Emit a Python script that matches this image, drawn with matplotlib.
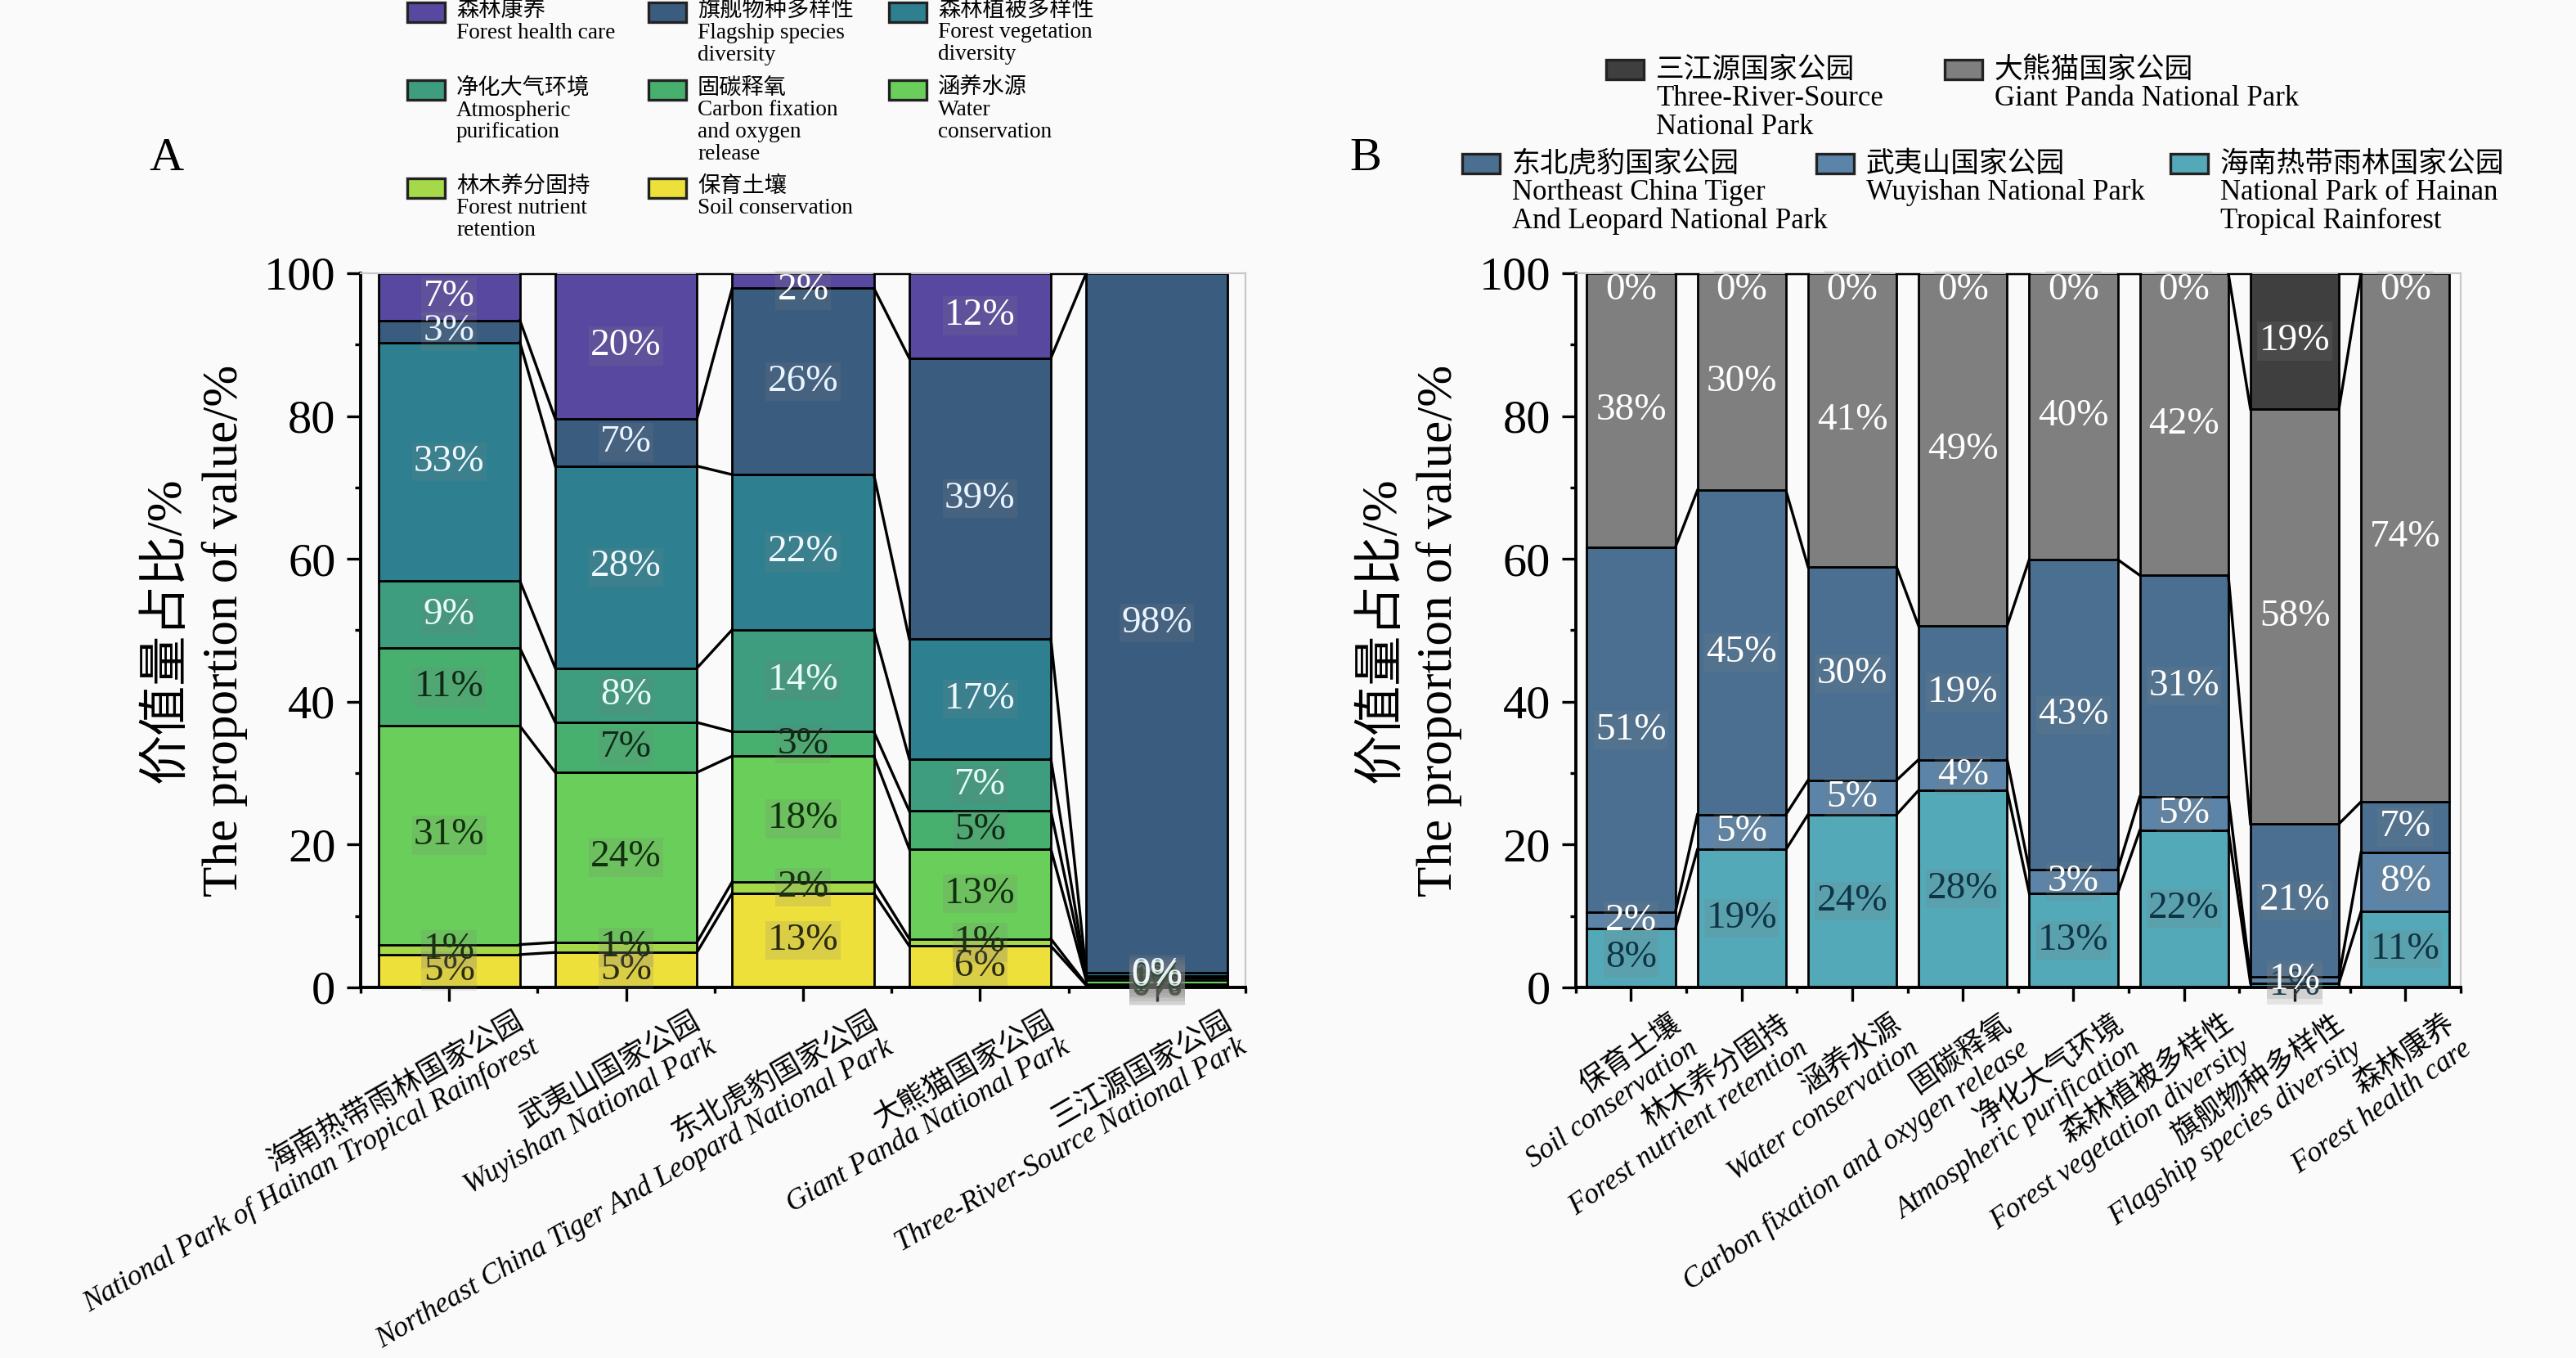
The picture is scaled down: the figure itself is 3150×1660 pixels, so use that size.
import numpy as np
import matplotlib
matplotlib.use("Agg")
import matplotlib.pyplot as plt
from matplotlib.transforms import ScaledTranslation

plt.rcParams['font.family'] = ['Liberation Serif', 'Noto Sans CJK SC']

# ---------------- data ----------------
# panel A : parks on x, services stacked (bottom -> top)
parks_cn = ["海南热带雨林国家公园", "武夷山国家公园", "东北虎豹国家公园", "大熊猫国家公园", "三江源国家公园"]
parks_en = ["National Park of Hainan Tropical Rainforest", "Wuyishan National Park",
            "Northeast China Tiger And Leopard National Park", "Giant Panda National Park",
            "Three-River-Source National Park"]

serv_cn = ["保育土壤", "林木养分固持", "涵养水源", "固碳释氧", "净化大气环境", "森林植被多样性", "旗舰物种多样性", "森林康养"]
serv_en = ["Soil conservation", "Forest nutrient retention", "Water conservation",
           "Carbon fixation and oxygen release", "Atmospheric purification",
           "Forest vegetation diversity", "Flagship species diversity", "Forest health care"]
# legend wrapping of service names (panel A legend)
serv_en_wrap = ["Soil conservation", "Forest nutrient\nretention", "Water\nconservation",
                "Carbon fixation\nand oxygen\nrelease", "Atmospheric\npurification",
                "Forest vegetation\ndiversity", "Flagship species\ndiversity", "Forest health care"]

# % share of each service in each park (columns = parks in parks_cn order)
a_soil     = [4.6, 4.9, 13.2, 5.8, 0.3]
a_nutrient = [1.4, 1.4, 1.6, 1.0, 0.1]
a_water    = [30.6, 23.8, 17.6, 12.6, 0.6]
a_carbon   = [10.9, 7.0, 3.4, 5.3, 0.4]
a_atmos    = [9.4, 7.6, 14.3, 7.3, 0.2]
a_veg      = [33.4, 28.3, 21.7, 16.8, 0.5]
a_flagship = [3.1, 6.6, 26.1, 39.3, 97.9]
a_health   = [6.6, 20.4, 2.1, 11.9, 0.0]

# panel B : services on x, parks stacked (bottom -> top)
b_hainan = [8.2, 19.3, 24.2, 27.6, 13.2, 22.0, 0.6, 10.6]
b_wuyi   = [2.3, 4.9, 4.8, 4.3, 3.3, 4.7, 0.9, 8.3]
b_ne     = [51.1, 45.4, 29.9, 18.7, 43.4, 31.0, 21.4, 7.1]
b_panda  = [38.4, 30.4, 41.1, 49.4, 40.1, 42.3, 58.1, 74.0]
b_tr     = [0, 0, 0, 0, 0, 0, 19.0, 0]

# ---------------- styles ----------------
a_series = [a_soil, a_nutrient, a_water, a_carbon, a_atmos, a_veg, a_flagship, a_health]
a_colors = ['#eee03a', '#a5d94a', '#6ace5a', '#47b06f', '#3e9c7f', '#2e8091', '#3a5c7f', '#5848a0']
a_txtcol = ['#2a2a10', '#1a3010', '#12300f', '#0f2a18', '#e8fff8', '#f0f8ff', '#e8f4ff', '#ffffff']

b_series = [b_hainan, b_wuyi, b_ne, b_panda, b_tr]
b_colors = ['#54a9b8', '#5b84a8', '#4a6f90', '#7f7f7f', '#3f3f3f']
b_txtcol = ['#0e3446', '#ffffff', '#ffffff', '#ffffff', '#ffffff']

bg = '#fafafa'
fig = plt.figure(figsize=(15.75, 8.3), dpi=200, facecolor=bg)
axA = fig.add_axes([0.14, 0.2729, 0.3435, 0.5259], facecolor=bg)
axB = fig.add_axes([0.6117, 0.2729, 0.3435, 0.5259], facecolor=bg)

W = 0.8
lab_box = dict(facecolor='#808080', alpha=0.18, edgecolor='none', boxstyle='square,pad=0.05')


def stacked(ax, series, colors, txtcols, label_zero):
    n = len(series[0])
    x = np.arange(n)
    bottom = np.zeros(n)
    tops = []
    for vals, c, tc in zip(series, colors, txtcols):
        vals = np.array(vals, dtype=float)
        ax.bar(x, vals, W, bottom=bottom, color=c, edgecolor='black', linewidth=1.0, zorder=2)
        for xi, b, v in zip(x, bottom, vals):
            if v <= 0 and not label_zero:
                continue
            yc = min(b + v / 2, 97.6)
            ax.text(xi, yc, f"{v:.0f}%", ha='center', va='center', fontsize=17,
                    color=tc, bbox=lab_box, zorder=4)
        bottom = bottom + vals
        tops.append(bottom.copy())
    # connecting lines between neighbouring bars
    for t in tops:
        for j in range(n - 1):
            ax.plot([x[j] + W / 2, x[j + 1] - W / 2], [t[j], t[j + 1]],
                    color='black', lw=1.2, zorder=3)
    return x


def style_axis(ax, n, labels, rot, dx, dy):
    ax.set_xlim(-0.5, n - 0.5)
    ax.set_ylim(0, 100)
    ax.set_yticks(range(0, 101, 20))
    ax.set_yticks(range(10, 100, 20), minor=True)
    ax.set_xticks(np.arange(n))
    ax.set_xticks(np.arange(-0.5, n, 1), minor=True)
    ax.set_xticklabels(labels, rotation=rot, ha='right', va='top', rotation_mode='anchor',
                       fontsize=12.8, style='italic', multialignment='right', linespacing=1.15)
    ax.tick_params(axis='both', which='major', direction='out', length=6, width=1.2,
                   labelsize=21, pad=5)
    ax.tick_params(axis='x', which='major', labelsize=12.8, pad=3)
    ax.tick_params(axis='both', which='minor', direction='out', length=2.5, width=1.2)
    for s in ['left', 'bottom']:
        ax.spines[s].set_linewidth(1.4)
    for s in ['top', 'right']:
        ax.spines[s].set_color('#c8c8c8')
        ax.spines[s].set_linewidth(0.8)
    ax.set_ylabel("价值量占比/%\nThe proportion of value/%", fontsize=22, linespacing=1.3)
    ax.yaxis.set_label_coords(-0.128, 0.5)
    off = ScaledTranslation(dx / 72, dy / 72, fig.dpi_scale_trans)
    for lab in ax.get_xticklabels():
        lab.set_transform(lab.get_transform() + off)


stacked(axA, a_series, a_colors, a_txtcol, label_zero=False)
style_axis(axA, len(parks_cn), [f"{c}\n{e}" for c, e in zip(parks_cn, parks_en)], 30, 29, 0)

stacked(axB, b_series, b_colors, b_txtcol, label_zero=True)
style_axis(axB, len(serv_cn), [f"{c}\n{e}" for c, e in zip(serv_cn, serv_en)], 35, 17, -1)

# panel letters
fig.text(182 / 3150, 1 - 208 / 1660, "A", fontsize=21, ha='left', va='baseline')
fig.text(1650 / 3150, 1 - 208 / 1660, "B", fontsize=21, ha='left', va='baseline')

# ---------------- legends (drawn by hand) ----------------
PW, PH = 46 / 3150, 24 / 1660


def legend_item(px, py, color, text, textx, fs, ls):
    # px, py : top-left of patch in pixels
    fig.patches.append(plt.Rectangle((px / 3150, 1 - (py + 24) / 1660), PW, PH,
                                     facecolor=color, edgecolor='#222222', lw=1.2,
                                     transform=fig.transFigure, figure=fig))
    fig.text(textx / 3150, 1 - (py - 3) / 1660, text, fontsize=fs, ha='left', va='top',
             linespacing=ls)


# panel A legend : row-major, 3 columns
legA_order = [7, 6, 5, 4, 3, 2, 1, 0]
colx = [498, 793, 1087]
rowy = [3, 98, 218]
for k, si in enumerate(legA_order):
    r, c = divmod(k, 3)
    legend_item(colx[c], rowy[r], a_colors[si], f"{serv_cn[si]}\n{serv_en_wrap[si]}",
                colx[c] + 60, 9.8, 1.1)

# panel B legend
b_cn = ["海南热带雨林国家公园", "武夷山国家公园", "东北虎豹国家公园", "大熊猫国家公园", "三江源国家公园"]
b_en = ["National Park of Hainan\nTropical Rainforest", "Wuyishan National Park",
        "Northeast China Tiger\nAnd Leopard National Park", "Giant Panda National Park",
        "Three-River-Source\nNational Park"]
legB_pos = {4: (1964, 73), 3: (2378, 73), 2: (1788, 188), 1: (2221, 188), 0: (2654, 188)}
for si, (px, py) in legB_pos.items():
    legend_item(px, py, b_colors[si], f"{b_cn[si]}\n{b_en[si]}", px + 61, 12.5, 1.05)

fig.savefig("out.png", dpi=200, facecolor=bg)
